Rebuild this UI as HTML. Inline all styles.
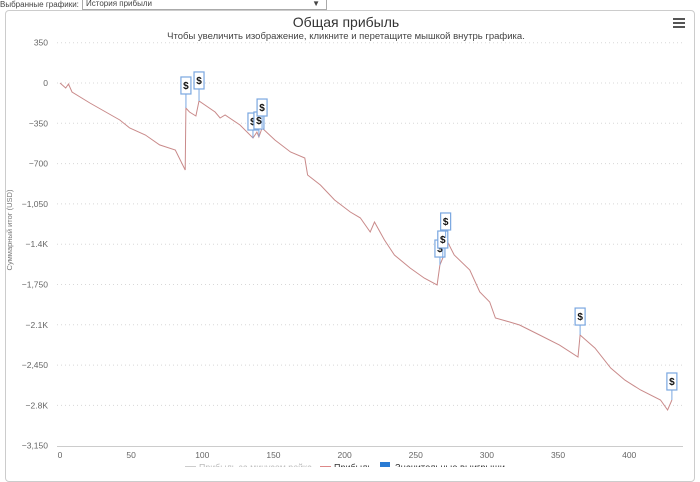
<!DOCTYPE html>
<html><head><meta charset="utf-8">
<style>
body{margin:0;width:700px;height:467px;overflow:hidden;background:#fff;font-family:"Liberation Sans","DejaVu Sans",sans-serif;}
#top{position:absolute;left:0;top:0;width:700px;height:9px;font-size:8px;color:#444;}
#sel{position:absolute;left:82px;top:-1px;width:240px;height:9px;border:1px solid #aaa;font-size:8px;line-height:8px;padding-left:3px;}
#frame{position:absolute;left:5px;top:10px;width:688px;height:470px;border:1px solid #ccc;border-radius:4px;}
svg{position:absolute;left:0;top:0;}
</style></head><body>
<div id="top">Выбранные графики:<div id="sel">История прибыли<span style="position:absolute;right:6px;top:0">▼</span></div></div>
<div id="frame"></div>
<svg id="c" width="700" height="467"></svg>
<script>
const xs=[0,4,6,8.4,21,42,49,60,70,81,88,88.5,91,95.5,97.7,109,112.5,116,126.5,135.6,138.4,139.8,142,151,162,172,174,183,193,204,211,218,221,228,235,246,256,265,267,269,271,277,288,295,302,306,316,323,337,351,364,365.5,376,387,397,408,422,427,430];
const ys=[0,-43,-9,-78,-174,-321,-391,-452,-538,-582,-756,-217,-252,-287,-156,-252,-304,-278,-365,-478,-426,-469,-391,-495,-599,-651,-799,-886,-1016,-1120,-1172,-1294,-1207,-1363,-1494,-1607,-1694,-1754,-1581,-1520,-1346,-1494,-1624,-1815,-1902,-2041,-2076,-2102,-2189,-2276,-2380,-2189,-2302,-2475,-2580,-2666,-2753,-2840,-2753];
const flagX=[88.5,97.7,135.6,139.8,142,267,269,271,365.5,430];
const flagY=[-217,-156,-478,-469,-391,-1581,-1520,-1346,-2189,-2753];
const flagLift=[14,12,8,8,12,8,10,8,10,10];
const yTicks=[350,0,-350,-700,-1050,-1400,-1750,-2100,-2450,-2800,-3150];
const yLabels=["350","0","-350","-700","-1,050","-1.4K","-1,750","-2.1K","-2,450","-2.8K","-3,150"];
const xTicks=[0,50,100,150,200,250,300,350,400];
const NS="http://www.w3.org/2000/svg";
const svg=document.getElementById('c');
const X=v=>60+v*1.423, Y=v=>83-v*40.3/350;
function el(t,a,txt){const e=document.createElementNS(NS,t);for(const k in a)e.setAttribute(k,a[k]);if(txt!==undefined)e.textContent=txt;svg.appendChild(e);return e;}
let t=el('text',{x:346,y:27,'text-anchor':'middle','font-size':14,fill:'#333'},'Общая прибыль');

t=el('text',{x:346,y:39,'text-anchor':'middle','font-size':9.5,fill:'#444'},'Чтобы увеличить изображение, кликните и перетащите мышкой внутрь графика.');

const m=el('g',{});
for(let i=0;i<3;i++){const r=document.createElementNS(NS,'rect');r.setAttribute('x',673);r.setAttribute('y',18+i*4);r.setAttribute('width',12);r.setAttribute('height',2);r.setAttribute('fill','#555');m.appendChild(r);}
yTicks.forEach((v,i)=>{
 if(i<yTicks.length-1){
 const g=el('line',{x1:57,x2:683,y1:Y(v),y2:Y(v),stroke:'#d8d8d8','stroke-dasharray':'1,3'});
 }
 const l=el('text',{x:48,y:Y(v)+3,'text-anchor':'end','font-size':8.5,fill:'#666'},yLabels[i].replace('-','−'));
 
});
let ax=el('line',{x1:57,x2:683,y1:446.5,y2:446.5,stroke:'#ccc'});

xTicks.forEach(v=>{
 const l=el('text',{x:X(v),y:458,'text-anchor':'middle','font-size':8.5,fill:'#666'},String(v));
 
});
t=el('text',{x:12,y:230,'text-anchor':'middle','font-size':7.5,fill:'#777',transform:'rotate(-90 12 230)'},'Суммарный итог (USD)');

const pts=xs.map((x,i)=>X(x).toFixed(1)+','+Y(ys[i]).toFixed(1)).join(' ');
const line=el('polyline',{points:pts,fill:'none',stroke:'#c98a8a','stroke-width':1});

flagX.forEach((x,i)=>{
 const px=X(x),py=Y(flagY[i]),top=py-flagLift[i]-17;
 const g=el('line',{x1:px,x2:px,y1:top+17,y2:py,stroke:'#7aa7e0'});
 
 const r=el('rect',{x:px-5,y:top,width:10,height:17,fill:'#fff',stroke:'#7aa7e0','stroke-width':1.2});
 
 const s=el('text',{x:px,y:top+12,'text-anchor':'middle','font-size':10,'font-weight':'bold',fill:'#111'},'$');
 
});
const lg=[[185,'#ccc','Прибыль за минусом рейка','#bbb',113],[320,'#d88','Прибыль','#333',38],[380,'#2a7bd4','Значительные выигрыши','#333',110]];
lg.forEach(([x,c,txt,tc,w],i)=>{
 const s=i==2?el('rect',{x:x,y:462,width:10,height:10,fill:c}):el('line',{x1:x,x2:x+11,y1:467,y2:467,stroke:c,'stroke-width':2});
 
 const l=el('text',{x:x+(i==2?15:14),y:471,'font-size':10,fill:tc,textLength:w,lengthAdjust:'spacingAndGlyphs'},txt);
 
});
</script>
</body></html>
